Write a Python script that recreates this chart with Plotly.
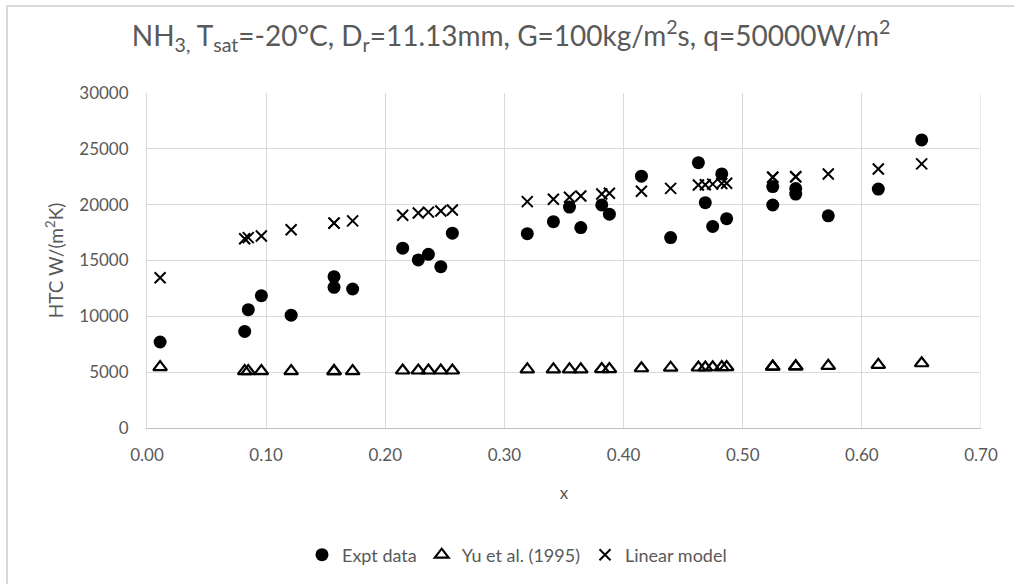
import plotly.graph_objects as go

# quality x
x_quality = [0.011, 0.082, 0.085, 0.096, 0.121, 0.157, 0.157, 0.1726,
             0.2146, 0.2277, 0.2362, 0.2466, 0.2563,
             0.3192, 0.3411, 0.3546, 0.3641, 0.3817, 0.3881,
             0.415, 0.4395, 0.4628, 0.4686, 0.4748, 0.4824, 0.4865,
             0.5252, 0.5252, 0.5445, 0.5445, 0.5718, 0.6138, 0.6502]

expt_data = [7700, 8650, 10600, 11850, 10100, 13550, 12600, 12450,
             16100, 15050, 15550, 14450, 17450,
             17400, 18480, 19780, 17950, 19980, 19150,
             22550, 17050, 23760, 20180, 18050, 22750, 18750,
             21620, 19970, 21450, 20950, 19000, 21400, 25800]

yu_1995 = [5450, 5100, 5100, 5100, 5100, 5100, 5100, 5100,
           5150, 5150, 5150, 5150, 5150,
           5250, 5250, 5250, 5250, 5280, 5280,
           5350, 5400, 5420, 5420, 5440, 5450, 5460,
           5500, 5500, 5520, 5520, 5560, 5650, 5800]

linear_model = [13450, 16950, 17050, 17200, 17750, 18350, 18350, 18550,
                19050, 19250, 19330, 19430, 19520,
                20270, 20480, 20660, 20780, 20960, 21020,
                21200, 21460, 21760, 21780, 21840, 21900, 21920,
                22450, 22450, 22500, 22500, 22750, 23200, 23650]

x_ticks = [0.0, 0.1, 0.2, 0.3, 0.4, 0.5, 0.6, 0.7]
y_ticks = [0, 5000, 10000, 15000, 20000, 25000, 30000]

FONT = "Lato"
GREY = "#595959"
GRID = "#d9d9d9"

fig = go.Figure()
fig.add_trace(go.Scatter(
    x=x_quality, y=expt_data, mode="markers", name="Expt data",
    marker=dict(symbol="circle", size=13, color="black")))
fig.add_trace(go.Scatter(
    x=x_quality, y=yu_1995, mode="markers", name="Yu et al. (1995)",
    marker=dict(symbol="triangle-up-open", size=12, color="black",
                line=dict(width=2.2, color="black"))))
fig.add_trace(go.Scatter(
    x=x_quality, y=linear_model, mode="markers", name="Linear model",
    marker=dict(symbol="x-thin", size=11, color="black",
                line=dict(width=2, color="black"))))

L, R, T, B = 147, 33, 93, 156
W, H = 1014, 584
pw, ph = W - L - R, H - T - B

def px(xp):
    return (xp - L) / pw

def py(yp):
    return (H - B - yp) / ph

fig.update_layout(
    width=W, height=H,
    margin=dict(l=L, r=R, t=T, b=B, autoexpand=False),
    paper_bgcolor="white", plot_bgcolor="white",
    font=dict(family=FONT, color=GREY, size=17),
    title=dict(
        text="NH<sub>3,</sub> T<sub>sat</sub>=-20°C, D<sub>r</sub>=11.13mm, "
             "G=100kg/m<sup>2</sup>s, q=50000W/m<sup>2</sup>",
        x=0.504, xref="container", xanchor="center",
        y=1 - 36 / H, yref="container", yanchor="middle",
        font=dict(family=FONT, size=28, color=GREY)),
    xaxis=dict(
        range=[0, 0.7], tickvals=x_ticks, tickformat=".2f",
        showgrid=True, gridcolor=GRID, gridwidth=1,
        showline=True, linecolor="#bfbfbf", linewidth=1, mirror=False,
        zeroline=False, ticks="", ticklabelstandoff=12,
        tickfont=dict(size=17, color=GREY),
        title=dict(text="x", standoff=22, font=dict(size=17, color=GREY))),
    yaxis=dict(
        range=[0, 30000], tickvals=y_ticks, tickformat="d",
        showgrid=True, gridcolor=GRID, gridwidth=1,
        showline=True, linecolor=GRID, linewidth=1,
        zeroline=False, ticks="", ticklabelstandoff=14,
        tickfont=dict(size=17, color=GREY),
        title=dict(text="HTC W/(m<sup>2</sup>K)", standoff=10,
                   font=dict(size=19, color=GREY))),
    legend=dict(
        orientation="h", x=px(517), xanchor="center",
        y=py(555), yanchor="middle",
        font=dict(size=18, color=GREY), itemwidth=30,
        bgcolor="rgba(0,0,0,0)"),
    showlegend=True,
)

# right-hand plot frame line at x = 0.70 (Excel shows gridline there)
fig.add_shape(type="line", xref="x", yref="paper", x0=0.7, x1=0.7, y0=0, y1=1,
              line=dict(color=GRID, width=1), layer="below")

# chart-area border (Excel chart frame)
fig.add_shape(type="rect", xref="paper", yref="paper",
              x0=px(7), x1=px(1030), y0=py(600), y1=py(6),
              line=dict(color=GRID, width=2), fillcolor="rgba(0,0,0,0)")

fig.write_html("out.html")
